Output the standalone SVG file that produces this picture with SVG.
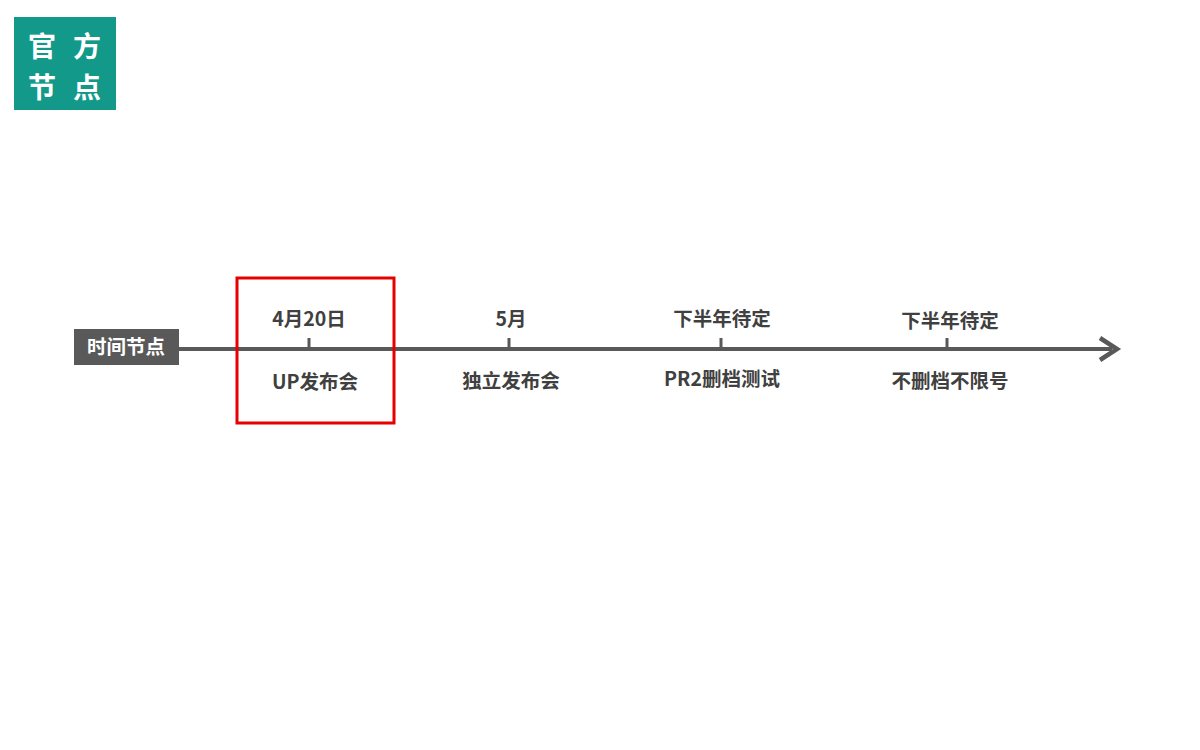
<svg xmlns="http://www.w3.org/2000/svg" width="1200" height="750" viewBox="0 0 1200 750">
<style>
.t{font-family:"Noto Sans CJK SC","Liberation Sans",sans-serif;font-weight:bold;font-size:19.5px;fill:#404040;text-anchor:middle}
.b{font-family:"Noto Sans CJK SC",sans-serif;font-weight:bold;font-size:28px;fill:#fff;text-anchor:middle}
.tick{stroke:#595959;stroke-width:3}
</style>
<rect width="1200" height="750" fill="#fff"/>
<g id="badge">
<rect x="14" y="17" width="102" height="93" fill="#13998a"/>
<text class="b" x="42" y="57">官</text>
<text class="b" x="87" y="57">方</text>
<text class="b" x="42" y="98">节</text>
<text class="b" x="87" y="98">点</text>
</g>
<g id="connectors">
<line x1="178" y1="349" x2="1112" y2="349" stroke="#595959" stroke-width="4"/>
<polyline points="1100,338 1117,349 1100,360" fill="none" stroke="#595959" stroke-width="4.5"/>
<line class="tick" x1="309" y1="338" x2="309" y2="349"/>
<line class="tick" x1="509" y1="338" x2="509" y2="349"/>
<line class="tick" x1="721" y1="338" x2="721" y2="349"/>
<line class="tick" x1="947" y1="338" x2="947" y2="349"/>
</g>
<g id="label">
<rect x="74" y="329" width="105" height="36" fill="#595959"/>
<text x="126" y="354" font-family="Noto Sans CJK SC,sans-serif" font-weight="bold" font-size="19.5" fill="#fff" text-anchor="middle">时间节点</text>
</g>
<g id="n1"><text class="t" x="309" y="326">4月20日</text><text class="t" x="315" y="389">UP发布会</text></g>
<g id="n2"><text class="t" x="511" y="326">5月</text><text class="t" x="511" y="388">独立发布会</text></g>
<g id="n3"><text class="t" x="722" y="326">下半年待定</text><text class="t" x="722" y="386">PR2删档测试</text></g>
<g id="n4"><text class="t" x="950" y="328">下半年待定</text><text class="t" x="950" y="388">不删档不限号</text></g>
<g id="highlight"><rect x="237" y="278" width="157" height="145" fill="none" stroke="#e60000" stroke-width="3"/></g>
</svg>
